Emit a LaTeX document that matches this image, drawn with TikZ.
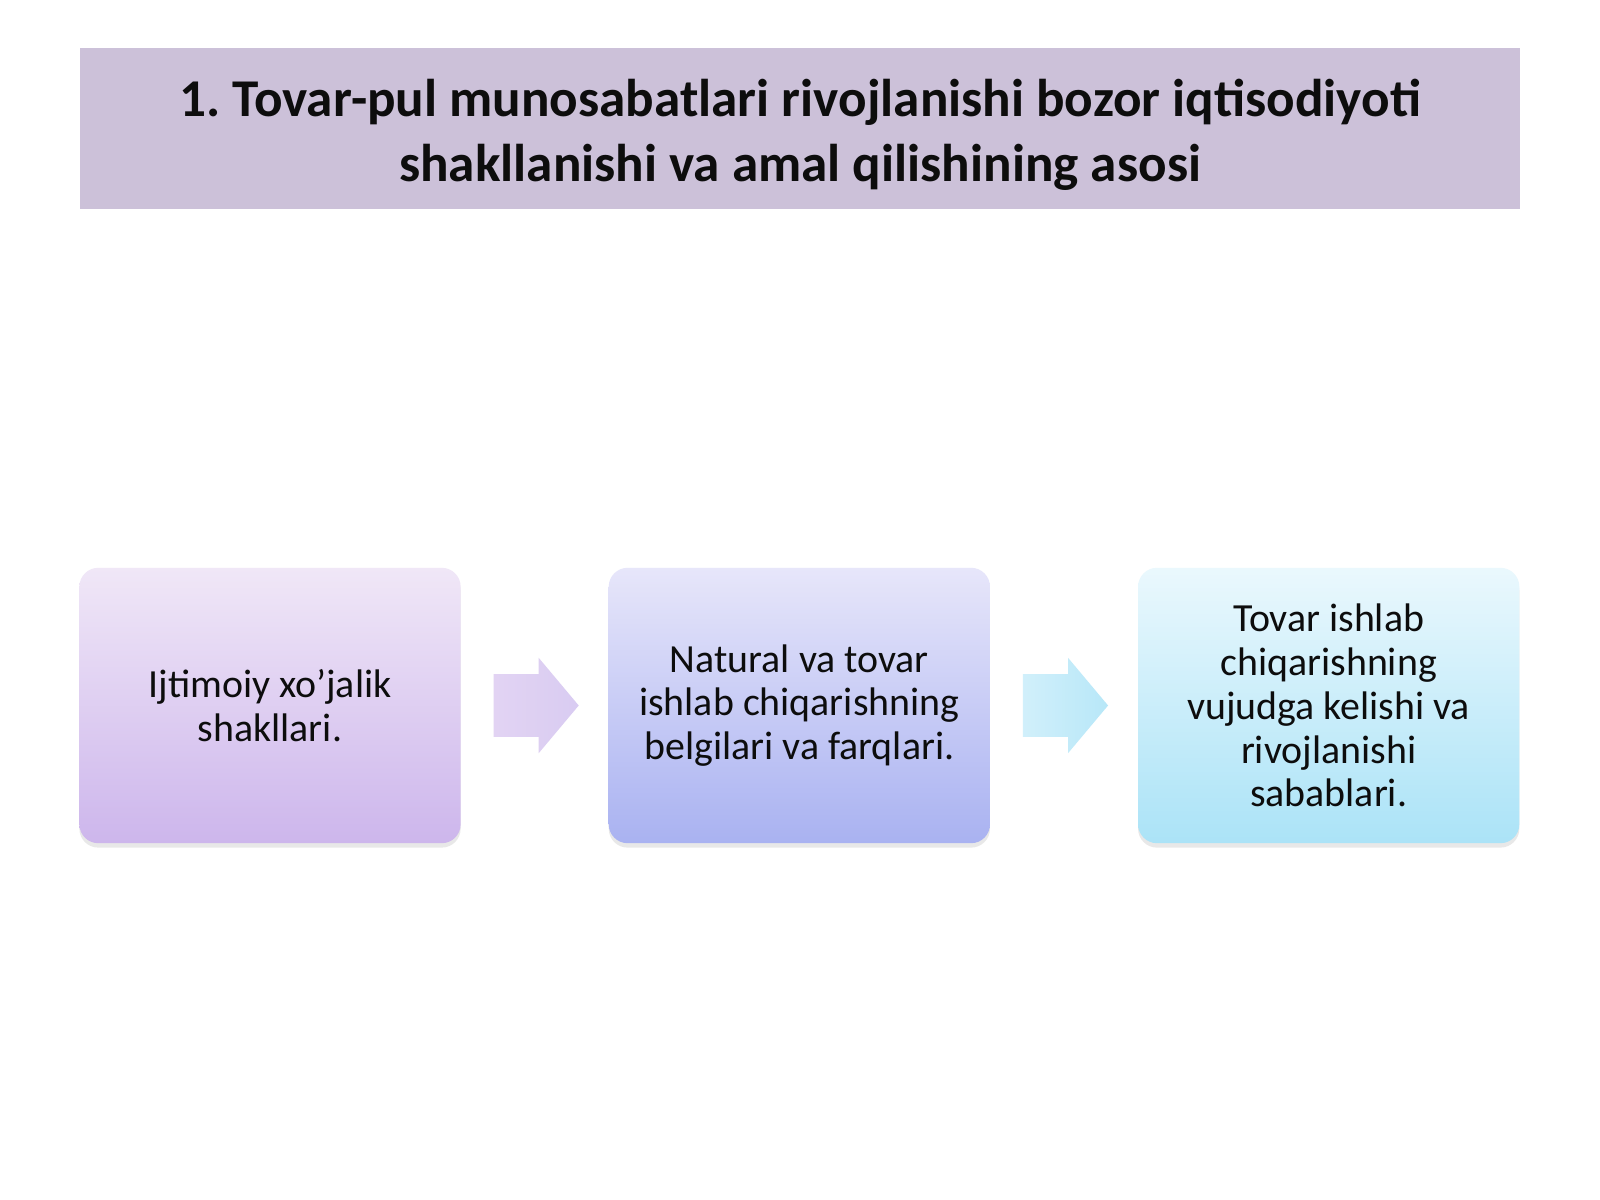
\documentclass[tikz,border=0pt]{standalone}
\usepackage{fontspec}
\setmainfont{Carlito}
\frenchspacing
\usetikzlibrary{positioning,calc,shapes.arrows,shadows}

\definecolor{barfill}{HTML}{CCC1D9}
\definecolor{violtop}{HTML}{F0E7F7}
\definecolor{violbot}{HTML}{CDB6EC}
\definecolor{bluetop}{HTML}{E7E6FA}
\definecolor{bluebot}{HTML}{A9B2F1}
\definecolor{cyantop}{HTML}{EAF8FD}
\definecolor{cyanbot}{HTML}{ABE3F7}
\definecolor{inktext}{HTML}{0D0D0D}

\begin{document}
\begin{tikzpicture}[x=0.015875cm, y=-0.015875cm,
		titlebar/.style={fill=barfill, minimum width=22.86cm, minimum height=2.57cm},
		titletext/.style={align=center, text=inktext, font=\bfseries\fontsize{24}{29.5}\selectfont},
		stage/.style={rounded corners=0.3cm, minimum width=6.05cm, minimum height=4.37cm,
			outer sep=0pt, align=center, text=inktext, font=\fontsize{18}{19.8}\selectfont,
			drop shadow={shadow xshift=0pt, shadow yshift=-2pt, opacity=0.18}},
		flowarrow/.style={single arrow, anchor=tail, minimum height=1.35cm, inner xsep=0pt,
			inner ysep=0.49cm, single arrow head extend=0.26cm, single arrow tip angle=100,
			outer sep=0pt}]
		\useasboundingbox (0,0) rectangle (1600,1200);
		\fill[white] (0,0) rectangle (1600,1200);
		\node[titlebar] (title) at (800,128.5) {};
		\node[titletext] (titlelines) at ($(title.center)+(0,6)$)
		{1. Tovar-pul munosabatlari rivojlanishi bozor iqtisodiyoti\\
			shakllanishi va amal qilishining asosi};
		% the three stages
		\node[stage, top color=violtop, bottom color=violbot] (forms) at (270,705.5)
		{Ijtimoiy xo’jalik\\ shakllari.};
		\node[stage, top color=bluetop, bottom color=bluebot, right=2.35cm of forms] (signs)
		{Natural va tovar\\ ishlab chiqarishning\\ belgilari va farqlari.};
		\node[stage, top color=cyantop, bottom color=cyanbot, right=2.35cm of signs] (causes)
		{Tovar ishlab\\ chiqarishning\\ vujudga kelishi va\\ rivojlanishi\\ sabablari.};
		% arrows between them
		\node[flowarrow, left color=violtop!60!violbot, right color=violbot!55!bluetop]
		(arrA) at ($(forms.east)+(33,0)$) {};
		\node[flowarrow, left color=cyantop!60!cyanbot, right color=cyanbot!85!white]
		(arrB) at ($(signs.east)+(33,0)$) {};
	\end{tikzpicture}
\end{document}
